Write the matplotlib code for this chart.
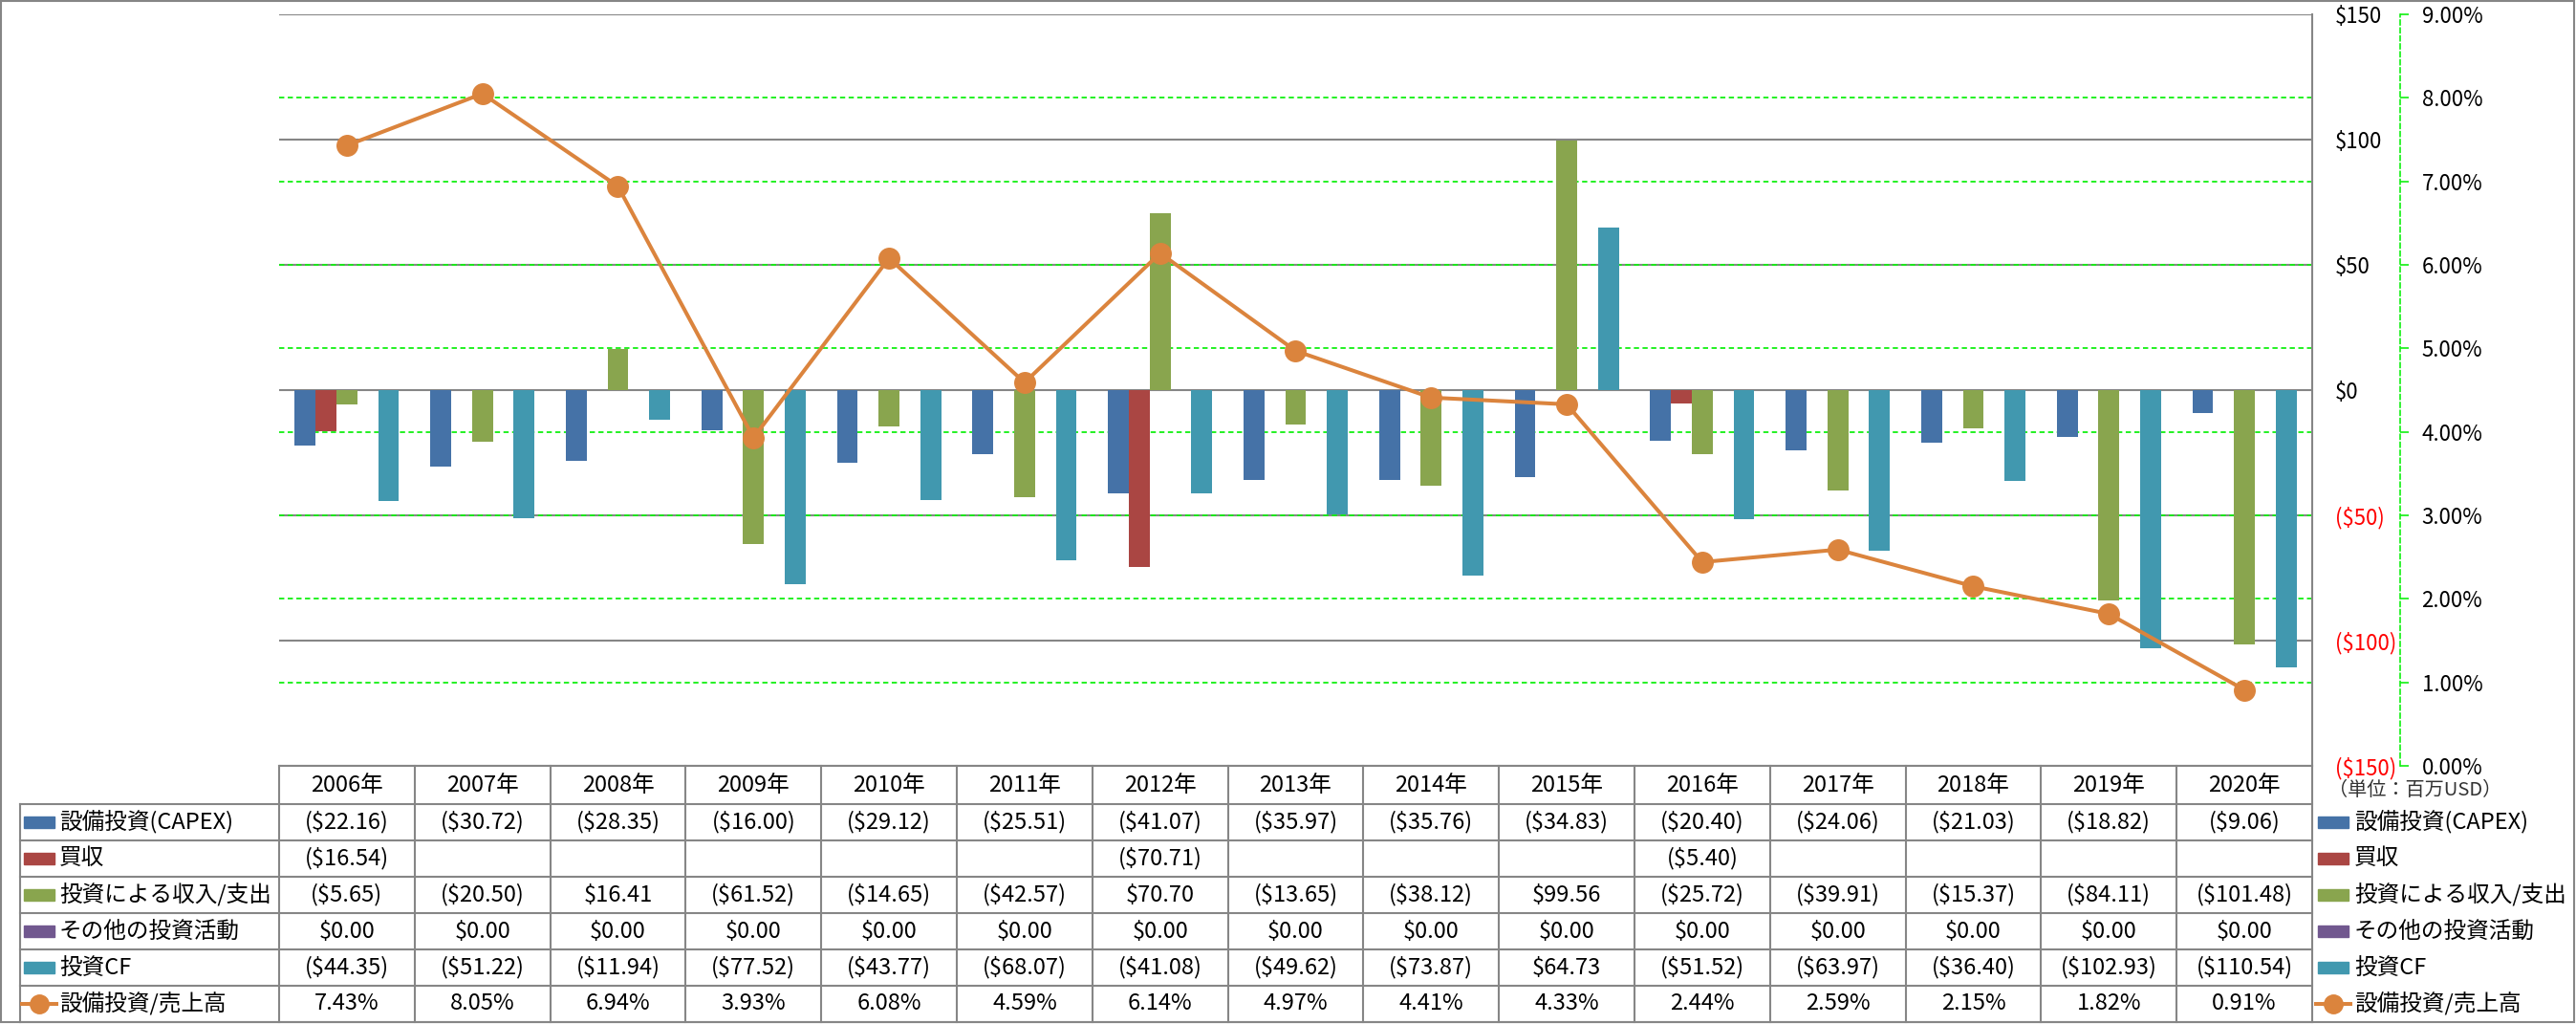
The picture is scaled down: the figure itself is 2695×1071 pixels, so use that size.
import numpy as np
import matplotlib
matplotlib.use('Agg')
import matplotlib.pyplot as plt
from matplotlib.lines import Line2D
from matplotlib.patches import Rectangle
from matplotlib.transforms import blended_transform_factory

plt.rcParams['font.family'] = ['Noto Sans CJK JP', 'DejaVu Sans']

years = ['2006年', '2007年', '2008年', '2009年', '2010年', '2011年', '2012年', '2013年',
         '2014年', '2015年', '2016年', '2017年', '2018年', '2019年', '2020年']
capex = [-22.16, -30.72, -28.35, -16.00, -29.12, -25.51, -41.07, -35.97,
         -35.76, -34.83, -20.40, -24.06, -21.03, -18.82, -9.06]
acq = [-16.54, None, None, None, None, None, -70.71, None,
       None, None, -5.40, None, None, None, None]
inv_io = [-5.65, -20.50, 16.41, -61.52, -14.65, -42.57, 70.70, -13.65,
          -38.12, 99.56, -25.72, -39.91, -15.37, -84.11, -101.48]
other = [0.0] * 15
inv_cf = [-44.35, -51.22, -11.94, -77.52, -43.77, -68.07, -41.08, -49.62,
          -73.87, 64.73, -51.52, -63.97, -36.40, -102.93, -110.54]
ratio = [7.43, 8.05, 6.94, 3.93, 6.08, 4.59, 6.14, 4.97,
         4.41, 4.33, 2.44, 2.59, 2.15, 1.82, 0.91]

bar_names = ['設備投資(CAPEX)', '買収', '投資による収入/支出', 'その他の投資活動', '投資CF']
bar_data = [capex, acq, inv_io, other, inv_cf]
bar_colors = ['#4572A7', '#AA4643', '#89A54E', '#71588F', '#4198AF']
line_name = '設備投資/売上高'
line_color = '#DB843D'

W, H = 2695, 1071
FS = 16      # axis tick labels
TFS = 17     # table / legend text
GRID = '#868686'
GREEN = '#11F011'

fig = plt.figure(figsize=(W / 100, H / 100), dpi=100)

# plot area in pixels
L, R, T, B = 292, 2419, 15, 801
ax = fig.add_axes([L / W, 1 - B / H, (R - L) / W, (B - T) / H])
ax2 = ax.twinx()

n = len(years)
x = np.arange(n)
w = 1 / 6.5
for i, (vals, c) in enumerate(zip(bar_data, bar_colors)):
    v = [np.nan if a is None else a for a in vals]
    ax.bar(x + (i - 2) * w, v, w, color=c, zorder=3)

ax.set_xlim(-0.5, n - 0.5)
ax.set_ylim(-150, 150)
ax.set_yticks([-150, -100, -50, 0, 50, 100, 150])
ax.yaxis.grid(True, color=GRID, lw=1.5, zorder=1)
ax.set_axisbelow(True)
ax.set_xticks([])
ax.yaxis.tick_right()
ax.tick_params(axis='y', length=0, pad=17, labelsize=FS)
ax.set_yticklabels(['($150)', '($100)', '($50)', '$0', '$50', '$100', '$150'])
for lab, v in zip(ax.get_yticklabels(), [-150, -100, -50, 0, 50, 100, 150]):
    lab.set_color('red' if v < 0 else 'black')
for s in ['left', 'top', 'bottom']:
    ax.spines[s].set_visible(False)
ax.spines['right'].set_color(GRID)
ax.spines['right'].set_linewidth(1.5)

# secondary axis
ax2.set_ylim(0, 9)
ax2.set_yticks(range(10))
ax2.set_yticklabels([f'{v:.2f}%' for v in range(10)])
ax2.plot(x, ratio, color=line_color, lw=2.9, marker='o', ms=15.5, zorder=5)
for s in ['left', 'top', 'bottom']:
    ax2.spines[s].set_visible(False)
ax2.spines['right'].set_position(('outward', 66))
ax2.spines['right'].set_color(GREEN)
ax2.spines['right'].set_linestyle((0, (3, 2)))
ax2.spines['right'].set_linewidth(1.2)
ax2.tick_params(axis='y', direction='out', length=6.5, width=1.2, color=GREEN,
                pad=10, labelsize=FS)

# green dashed gridlines behind the bars
tr = blended_transform_factory(ax.transAxes, ax2.transData)
for p in range(1, 9):
    ax.add_line(Line2D([0, 1], [p, p], transform=tr, color=GREEN, lw=1.3,
                       ls=(0, (3, 2)), zorder=2))

# data table in pixel coordinates
tb = fig.add_axes([0, 0, 1, 1])
tb.set_xlim(0, W)
tb.set_ylim(H, 0)
tb.axis('off')
tb.patch.set_visible(False)

colw = (R - L) / n
row_tops = [B, 841, 879, 917, 955, 993, 1031, 1069]
LX = 21

tb.plot([L, R], [B, B], color=GRID, lw=1.5)
for yy in row_tops[1:]:
    tb.plot([LX, R], [yy, yy], color=GRID, lw=1.5)
for j in range(n + 1):
    tb.plot([L + j * colw] * 2, [B, row_tops[-1]], color=GRID, lw=1.5)
tb.plot([LX, LX], [row_tops[1], row_tops[-1]], color=GRID, lw=1.5)


def money(v):
    if v is None:
        return ''
    if v < 0:
        return f'(${-v:.2f})'
    return f'${v:.2f}'


for j in range(n):
    cx = L + (j + 0.5) * colw
    tb.text(cx, (row_tops[0] + row_tops[1]) / 2, years[j], ha='center', va='center', fontsize=TFS)
    for k, vals in enumerate(bar_data):
        cy = (row_tops[k + 1] + row_tops[k + 2]) / 2
        tb.text(cx, cy, money(vals[j]), ha='center', va='center', fontsize=TFS)
    cy = (row_tops[6] + row_tops[7]) / 2
    tb.text(cx, cy, f'{ratio[j]:.2f}%', ha='center', va='center', fontsize=TFS)

names = bar_names + [line_name]
for k, name in enumerate(names):
    cy = (row_tops[k + 1] + row_tops[k + 2]) / 2
    for kx, tx in [(25, 62), (2425, 2463)]:
        if k < 5:
            tb.add_patch(Rectangle((kx, cy - 6), 32, 12, color=bar_colors[k]))
        else:
            tb.plot([kx - 2, kx + 34], [cy, cy], color=line_color, lw=2.9)
            tb.plot([kx + 16], [cy], marker='o', ms=14, color=line_color)
        tb.text(tx, cy, name, ha='left', va='center', fontsize=TFS)

tb.text(2436, 827, '（単位：百万USD）', ha='left', va='center', fontsize=14.5, color='#333333')

# outer border
tb.add_patch(Rectangle((1, 1), W - 3, H - 3, fill=False, ec=GRID, lw=1.5))

fig.savefig('out.png', dpi=100)
